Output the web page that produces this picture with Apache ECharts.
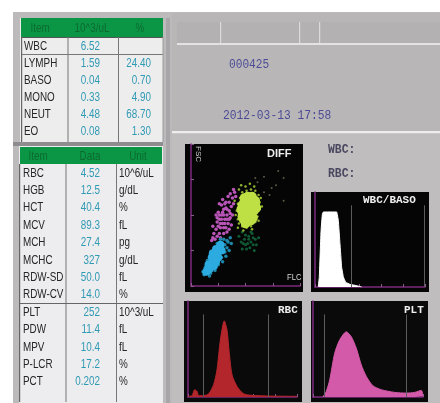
<!DOCTYPE html>
<html><head><meta charset="utf-8">
<style>html,body{margin:0;padding:0;background:#fff}#c{width:440px;height:403px;filter:blur(0.5px)}</style>
<script src="https://cdn.jsdelivr.net/npm/echarts@6/dist/echarts.min.js"></script>
</head><body><div id="c"></div>
<script>
const wbcHeader = ['Item','10^3/uL','%'];
const wbcTop = ['WBC','6.52',''];
const wbcRows = [['LYMPH','1.59','24.40'],['BASO','0.04','0.70'],['MONO','0.33','4.90'],['NEUT','4.48','68.70'],['EO','0.08','1.30']];
const rbcHeader = ['Item','Data','Unit'];
const rbcRows = [['RBC','4.52','10^6/uL'],['HGB','12.5','g/dL'],['HCT','40.4','%'],['MCV','89.3','fL'],['MCH','27.4','pg'],['MCHC','327','g/dL'],['RDW-SD','50.0','fL'],['RDW-CV','14.0','%'],['PLT','252','10^3/uL'],['PDW','11.4','fL'],['MPV','10.4','fL'],['P-LCR','17.2','%'],['PCT','0.202','%']];
const sampleId = '000425';
const sampleTime = '2012-03-13 17:58';

const yellowCore = [[53,54],[50,50],[56,57],[48,47],[52,47],[55,50],[58,53],[47,52],[50,56],[54,60],[57,61],[59,58],[49,60],[47,49],[51,45],[55,46],[60,55],[52,63],[56,63],[59,60],[46,54],[47,57],[50,44],[57,48],[53,57],[49,62]];
const yellowFringe = [[43,47],[42,53],[43,58],[45,62],[47,66],[51,67],[55,68],[59,67],[62,64],[63,59],[63,54],[61,49],[59,45],[55,42],[51,41],[47,42],[44,44],[41,50],[44,68],[50,70],[58,70],[64,62],[65,56],[62,46],[40,60],[46,71],[54,72],[43,41],[48,39],[56,40]];
const magenta = [[31,47],[29,44],[33,50],[28,50],[34,44],[30,54],[26,47],[35,53],[32,41],[27,41],[36,48],[24,45],[31,58],[35,59],[28,57],[33,38],[26,37],[23,40],[37,56],[38,62],[36,65],[34,63],[30,37],[21,37],[24,35],[22,33],[27,34],[20,42],[25,52],[23,50],[37,43],[38,50],[39,58],[29,61],[40,66],[39,68],[41,63],[20,34],[19,32],[26,58],[32,55],[28,47],[30,50],[33,47],[25,42],[35,40],[31,44],[29,52],[27,44],[33,54],[35,47],[30,41],[26,50],[32,59],[36,51],[24,48]];
const blueCore = [[22,20],[20,17],[24,23],[18,15],[26,26],[17,12],[21,14],[25,20],[19,20],[23,26],[15,11],[27,29],[28,25],[14,10],[16,15],[23,17],[20,23]];
const blueFringe = [[29,26],[31,29],[33,32],[30,33],[27,33],[24,30],[21,26],[18,22],[15,18],[13,13],[12,8],[18,9],[22,11],[25,15],[28,20],[31,24],[33,27],[34,31],[36,34],[37,30],[35,25],[32,21],[29,17],[11,10],[17,7]];
const darkGreen = [[47,38],[50,36],[53,35],[56,37],[59,33],[55,31],[52,30],[49,33],[46,31],[54,27],[57,29],[60,29],[51,26],[47,26],[58,25],[62,34],[44,35],[55,38],[50,29],[53,33],[57,34],[48,30]];
const strayDots = [[59,76],[67,77],[80,81],[85,76],[74,69],[85,60],[67,66],[61,73],[72,64],[78,71]];

const wbcCurve = [[3,0.7],[3.9,10.5],[5.5,59.6],[6.7,77],[7.6,79],[19.7,79],[21.2,70],[22.7,45.6],[24.2,21],[25.8,10.5],[27.9,5],[31.8,2.8],[37.9,1.4],[42.4,0]];
const rbcCurve = [[0,0.7],[3.7,1.4],[6.1,7.6],[8.3,5.9],[9.8,1.4],[14.4,1.4],[19,3.4],[23.5,12.8],[26.6,28.3],[29.7,59.3],[33.3,79.3],[35.8,69.7],[37.9,45.5],[40.4,23.1],[45,11],[51,3.4],[58.7,1.7],[74,1],[100,0.7]];
const pltCurve = [[9.1,0.3],[12.1,5.9],[15.2,17.9],[19.7,45.5],[24.2,59.3],[30.3,67.9],[34.8,62.8],[39.4,50.7],[43.9,33.4],[48.5,21.4],[54.5,11.7],[62.1,7.6],[74.2,4.8],[84.8,4.1],[92.4,4.8],[98.5,6.9],[100,0.7]];
const wbcGates = [33.3,99.4];
const rbcGates = [13.8,74];
const pltGates = [10,84.8];
const gateTop = 86;

const chart = echarts.init(document.getElementById('c'),null,{renderer:'canvas'});
const sans = '"Liberation Sans",Arial,sans-serif';
const mono = '"Liberation Mono",monospace';
const g = [];
function rect(x,y,w,h,fill,z){g.push({type:'rect',z:z===undefined?-10:z,silent:true,shape:{x:x,y:y,width:w,height:h},style:{fill:fill}});}
function txt(s,x,y,o){o=o||{};g.push({type:'text',z:o.z||50,silent:true,x:x,y:y,scaleX:o.sx||1,rotation:o.rot||0,style:{text:s,x:0,y:0,align:o.align||'left',verticalAlign:'middle',fill:o.fill||'#262626',font:(o.weight||'normal')+' '+(o.size||13)+'px '+(o.family||sans)}});}

// backdrop
rect(13,12,427,391,'#bdbabc');
rect(172,13,268,120,'#b9b6b8');
rect(177,22,263,21,'#b4b1b3');
rect(177,43,263,2,'#e4e3e4');
[220,299,319].forEach(x=>rect(x,22,1.2,21,'#dcdbdc'));
rect(172,131,268,2.5,'#eeeeee');
rect(172,133.5,268,270,'#bfbdbe');
rect(166,18,4,385,'#a9a6a9');
// tables
rect(20,18,143,124,'#eeedee');
rect(19,146,144,257,'#edecee');
rect(21,18,142,19,'#0b9646');
rect(20,147,142,17,'#0b9646');
rect(21,37,142,1,'#555');
rect(21,54,142,1,'#777');
rect(21,37,1.2,105,'#666');
rect(67.5,37,1,105,'#777');
rect(118,37,1,105,'#777');
rect(162.5,37,1,105,'#999');
rect(19,164,1.2,238,'#666');
rect(65.5,164,1,238,'#777');
rect(116,164,1,238,'#777');
rect(20,303,143,1,'#666');
rect(13,142,150,4,'#8f8c8f');

const headCol = '#0c6a30', valCol = '#2f9ab4', S = 0.76;
const hx1=[40,92,140], hx2=[38,90,138];
wbcHeader.forEach((t,i)=>txt(t,hx1[i],28,{align:'center',fill:headCol,sx:S}));
rbcHeader.forEach((t,i)=>txt(t,hx2[i],156,{align:'center',fill:headCol,sx:S}));
txt(wbcTop[0],24,46,{sx:S});
txt(wbcTop[1],100,46,{align:'right',fill:valCol,sx:S});
wbcRows.forEach((r,i)=>{const y=63+17.2*i;
  txt(r[0],24,y,{sx:S});
  txt(r[1],100,y,{align:'right',fill:valCol,sx:S});
  txt(r[2],151,y,{align:'right',fill:valCol,sx:S});
});
rbcRows.forEach((r,i)=>{const y=173+17.4*i;
  txt(r[0],23,y,{sx:S});
  txt(r[1],100,y,{align:'right',fill:valCol,sx:S});
  txt(r[2],119,y,{sx:S});
});
// sample info
txt(sampleId,229,65,{fill:'#4c4c96',family:mono,size:12,sx:0.93});
txt(sampleTime,223,116,{fill:'#4c4c96',family:mono,size:12,sx:0.94});
txt('WBC:',328,150,{fill:'#4a475f',family:mono,size:12,sx:0.95,weight:'bold'});
txt('RBC:',328,174,{fill:'#4a475f',family:mono,size:12,sx:0.95,weight:'bold'});
// panels
rect(185,144,118,148,'#050505',-5);
rect(311,192,118,100,'#050505',-5);
rect(184,301,118,101,'#0b0a0b',-5);
rect(311,301,117,101,'#0b0a0b',-5);
txt('DIFF',267,154,{fill:'#eeeeee',weight:'bold',size:11,z:60});
txt('FLC',287,278,{fill:'#d8d8d8',size:9,sx:0.85,z:60});
txt('FSC',198,146,{fill:'#c8c8c8',size:8,rot:-Math.PI/2,z:60});
txt('WBC/BASO',363,200,{fill:'#eeeeee',weight:'bold',family:mono,size:11,z:60});
txt('RBC',278,310,{fill:'#eeeeee',weight:'bold',family:mono,size:11,z:60});
txt('PLT',404,310,{fill:'#eeeeee',weight:'bold',family:mono,size:11,z:60});

const grids=[{left:191,top:144,width:109,height:142},{left:315,top:192,width:110,height:95},{left:188,top:301,width:109,height:96},{left:313,top:301,width:110,height:96}];
const tickIv=[25,20,20,20];
const axisBase=(i,t)=>({type:'value',gridIndex:i,min:0,max:100,interval:t,splitLine:{show:false},axisLabel:{show:false},
  axisLine:{show:true,onZero:false,lineStyle:{color:'#7d2a7f',width:1.5}},axisTick:{show:true,inside:true,length:3,lineStyle:{color:'#8a5a8c',width:1}}});
const xAxis=grids.map((_,i)=>axisBase(i,tickIv[i]));
const yAxis=grids.map((_,i)=>{const a=axisBase(i,tickIv[i]);if(i>0)a.axisTick={show:false};return a;});

function scat(data,color,size){return {type:'scatter',xAxisIndex:0,yAxisIndex:0,data:data,symbolSize:size,itemStyle:{color:color,opacity:1},silent:true,animation:false};}
function hist(i,data,color,gates,smooth){return {type:'line',xAxisIndex:i,yAxisIndex:i,data:data,symbol:'none',smooth:smooth,lineStyle:{color:color,width:1},areaStyle:{color:color,opacity:1},silent:true,animation:false,
  markLine:{silent:true,symbol:'none',label:{show:false},lineStyle:{color:'#5c5c5c',type:'solid',width:1},data:gates.map(v=>[{xAxis:v,yAxis:0},{xAxis:v,yAxis:gateTop}])}};}

chart.setOption({
  animation:false,
  backgroundColor:'#ffffff',
  tooltip:{show:false},
  grid:grids,xAxis:xAxis,yAxis:yAxis,
  graphic:{elements:g},
  series:[
    scat(strayDots,'#5e5a48',2),
    scat(darkGreen,'#0f5a34',3),
    scat(yellowFringe,'#8fb52f',2.5),
    scat(magenta,'#b955b8',3.5),
    scat(blueFringe,'#1e86a8',3.5),
    scat(blueCore,'#2cabe0',8),
    scat(yellowCore,'#bfe045',9.5),
    hist(1,wbcCurve,'#ffffff',wbcGates,0.05),
    hist(2,rbcCurve,'#b3262b',rbcGates,0.25),
    hist(3,pltCurve,'#d35aa8',pltGates,0.25)
  ]
});
</script></body></html>
